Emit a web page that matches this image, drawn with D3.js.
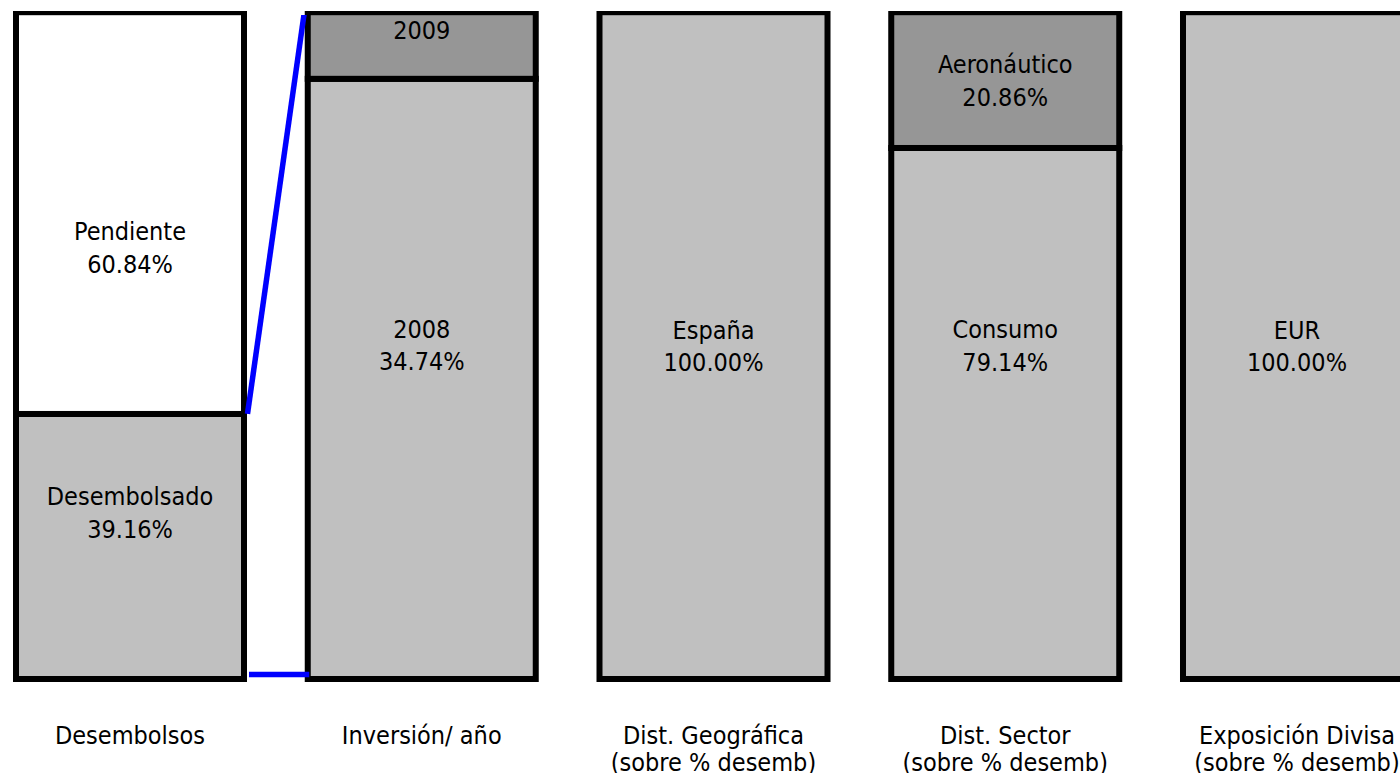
<!DOCTYPE html>
<html>
<head>
<meta charset="utf-8">
<script src="https://cdn.jsdelivr.net/npm/d3@7"></script>
<style>
  html, body { margin: 0; padding: 0; background: #ffffff; }
  svg { display: block; }
</style>
</head>
<body>
<script>
// ---------- data ----------
const categoryLines = [
  ["Desembolsos"],
  ["Inversión/ año"],
  ["Dist. Geográfica", "(sobre % desemb)"],
  ["Dist. Sector", "(sobre % desemb)"],
  ["Exposición Divisa", "(sobre % desemb)"]
];
const segmentNames = [
  ["Desembolsado", "Pendiente"],
  ["2008", "2009"],
  ["España"],
  ["Consumo", "Aeronáutico"],
  ["EUR"]
];
const segmentValues = [
  [39.16, 60.84],
  [34.74, 4.06],
  [100.00],
  [79.14, 20.86],
  [100.00]
];
const showValue = [
  [true, true],
  [true, false],
  [true],
  [true, true],
  [true]
];

// ---------- styles / layout ----------
const segmentFills = [
  ["#C0C0C0", "#FFFFFF"],
  ["#C0C0C0", "#969696"],
  ["#C0C0C0"],
  ["#C0C0C0", "#969696"],
  ["#C0C0C0"]
];
const labelShift = [[-1, 1], [-1, 0], [0], [-2, 0], [0]]; // in label-line units
const W = 1400, H = 773;
const FONT = "'DejaVu Sans Condensed', 'DejaVu Sans', sans-serif";
const FS = 25;
const yRange = [674.5, 9.2];
const frameBottom = yRange[0] + 4.5, frameTop = yRange[1] + 3;

const svg = d3.select("body").append("svg").attr("width", W).attr("height", H);
const defs = svg.append("defs");
defs.append("clipPath").attr("id", "plotClip")
  .append("rect").attr("x", 0).attr("y", 11).attr("width", W).attr("height", H - 11);
defs.append("clipPath").attr("id", "lineClip")
  .append("rect").attr("x", 0).attr("y", 15).attr("width", W).attr("height", H - 15);

const x = d3.scaleBand().domain(d3.range(categoryLines.length))
  .range([16, 1411]).paddingInner(0.2185).paddingOuter(0);
const bw = x.bandwidth();

const yScales = segmentValues.map(vals =>
  d3.scaleLinear().domain([0, d3.sum(vals)]).range(yRange));

const plot = svg.append("g").attr("clip-path", "url(#plotClip)");

segmentValues.forEach((vals, i) => {
  const y = yScales[i];
  const cum = [0];
  vals.forEach(v => cum.push(cum[cum.length - 1] + v));
  const g = plot.append("g");
  vals.forEach((v, j) => {
    const yb = j === 0 ? frameBottom : y(cum[j]);
    const yt = j === vals.length - 1 ? frameTop : y(cum[j + 1]);
    g.append("rect")
      .attr("x", x(i)).attr("y", yt)
      .attr("width", bw).attr("height", yb - yt)
      .attr("fill", segmentFills[i][j])
      .attr("stroke", "#000").attr("stroke-width", 6);
  });
  vals.forEach((v, j) => {
    const yb = j === 0 ? frameBottom : y(cum[j]);
    const yt = j === vals.length - 1 ? frameTop : y(cum[j + 1]);
    const c = (yt + yb) / 2 + labelShift[i][j] * 34;
    const cx = x(i) + bw / 2;
    const t = g.append("text")
      .attr("text-anchor", "middle")
      .attr("font-family", FONT).attr("font-size", FS).attr("fill", "#000");
    t.append("tspan").attr("x", cx).attr("y", c - 7).text(segmentNames[i][j]);
    if (showValue[i][j]) {
      t.append("tspan").attr("x", cx).attr("y", c + 25.5)
        .text(d3.format(".2f")(v) + "%");
    }
  });
});

// series lines between bar 1 (Desembolsado) and bar 2 (its breakdown)
const lines = svg.append("g").attr("clip-path", "url(#lineClip)");
const y0s = yScales[0], y1s = yScales[1];
lines.append("line")
  .attr("x1", x(0) + bw + 3.5).attr("y1", y0s(segmentValues[0][0]))
  .attr("x2", x(1) - 3).attr("y2", y1s(d3.sum(segmentValues[1])))
  .attr("stroke", "#0000FF").attr("stroke-width", 5.5);
lines.append("line")
  .attr("x1", x(0) + bw + 5).attr("y1", y0s(0))
  .attr("x2", x(1) + 1.5).attr("y2", y1s(0))
  .attr("stroke", "#0000FF").attr("stroke-width", 5.5);

// category labels
categoryLines.forEach((lns, i) => {
  const t = svg.append("text")
    .attr("text-anchor", "middle")
    .attr("font-family", FONT).attr("font-size", FS).attr("fill", "#000");
  lns.forEach((s, k) => {
    t.append("tspan").attr("x", x(i) + bw / 2).attr("y", 744 + k * 27).text(s);
  });
});
</script>
</body>
</html>
